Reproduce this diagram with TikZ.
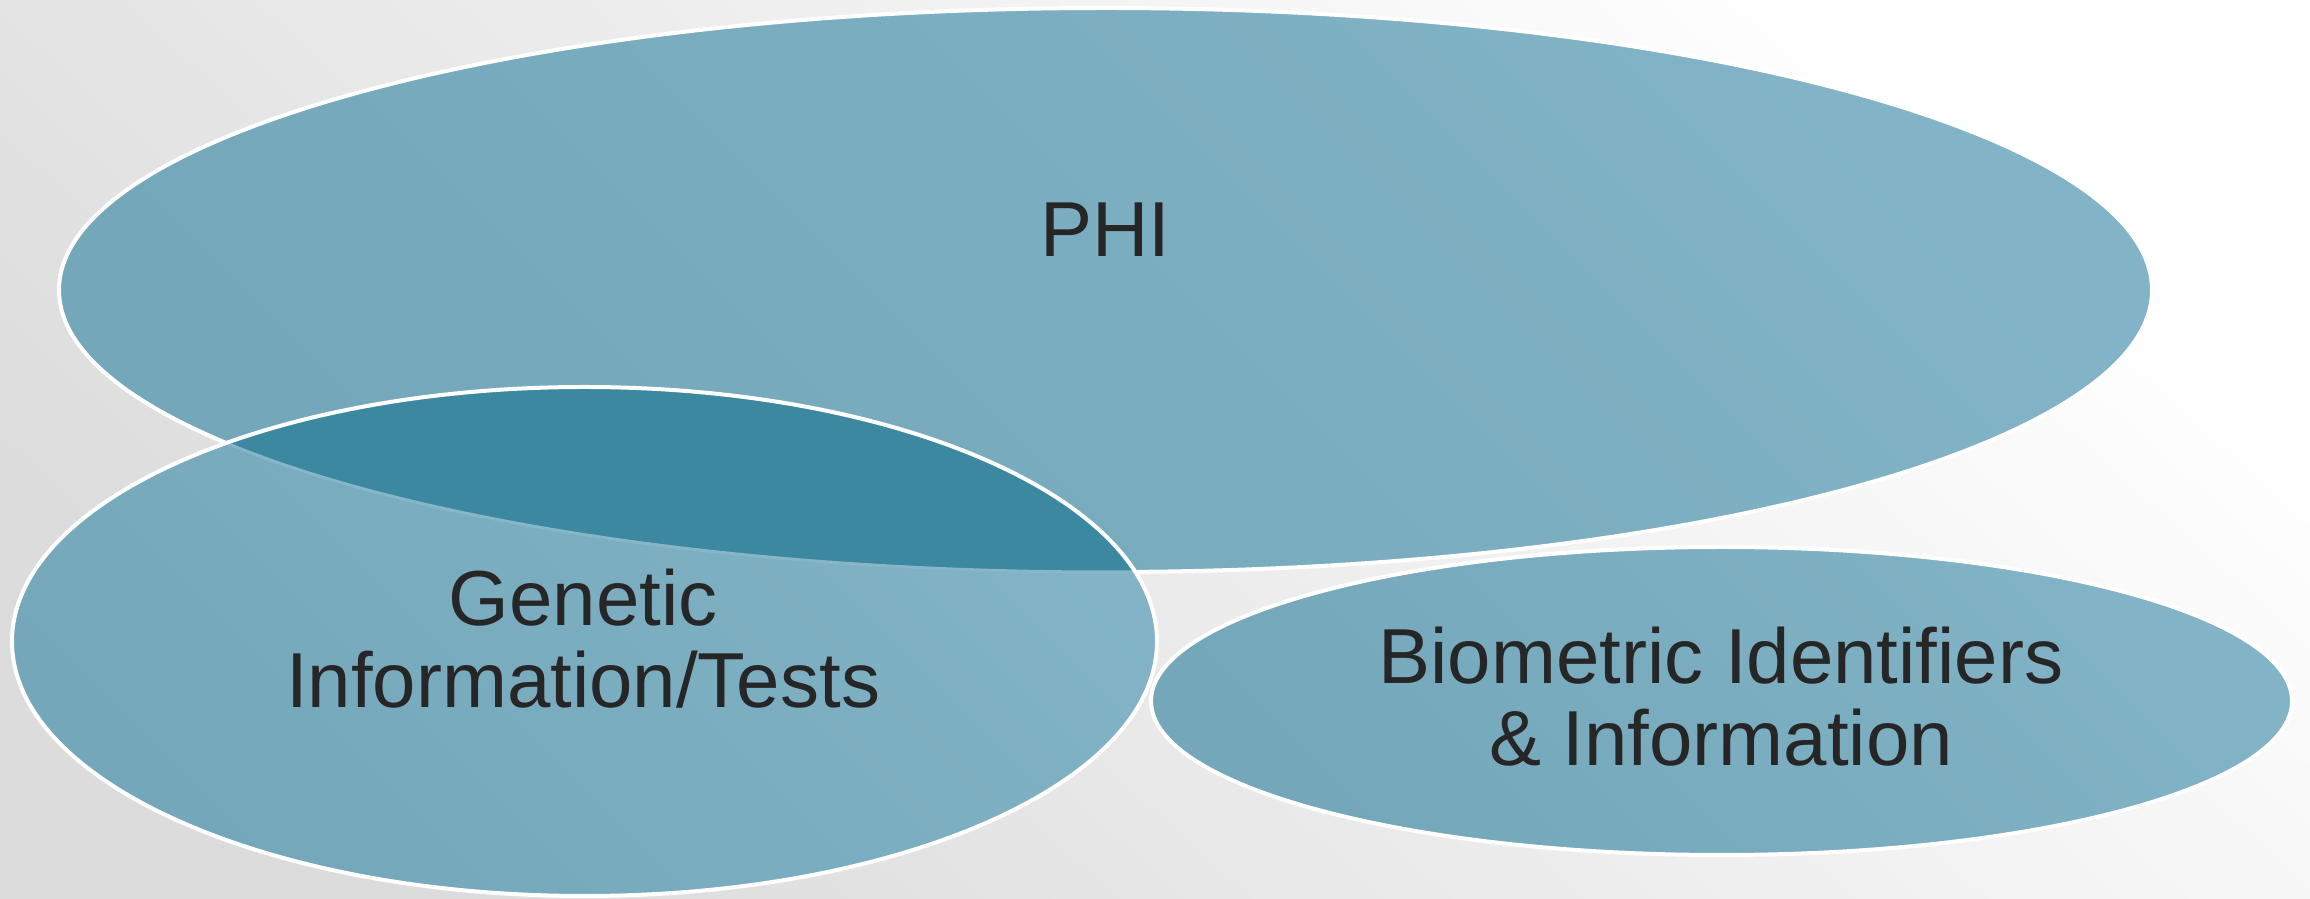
\documentclass[tikz,border=0pt]{standalone}
\usepackage{fontspec}
\setmainfont{Liberation Sans}
\definecolor{bgdark}{HTML}{DCDCDC}
\definecolor{bglight}{HTML}{FFFFFF}
\definecolor{blobA}{HTML}{73A7B9}
\definecolor{blobB}{HTML}{82B3C6}
\definecolor{overlap}{HTML}{3C88A0}
\definecolor{seam}{HTML}{86B6C7}
\definecolor{ink}{HTML}{262626}
\tikzset{
  blob/.style={shading=axis, bottom color=blobA, top color=blobB, shading angle=-45},
  rim/.style={draw=white, line width=4pt},
  label/.style={font=\fontsize{78}{82}\selectfont, text=ink, align=center, anchor=base, inner sep=0pt}
}
\begin{document}
\begin{tikzpicture}[x=1pt, y=1pt]
  % page and soft background
  \shade[shading=axis, bottom color=bgdark, top color=bglight, shading angle=-42]
    (0,0) rectangle (2310,899);
  \useasboundingbox (0,0) rectangle (2310,899);

  % centres of the three sets
  \coordinate (phiC) at (1105.5,609);
  \coordinate (genC) at (584.5,257.5);
  \coordinate (bioC) at (1721.5,198);

  % PHI
  \shade[blob] (phiC) ellipse [x radius=1046.5, y radius=282];
  \draw[rim] (phiC) ellipse [x radius=1046.5, y radius=282];

  % Genetic information
  \shade[blob] (genC) ellipse [x radius=572.5, y radius=254.5];
  \begin{scope}
    \clip (phiC) ellipse [x radius=1046.5, y radius=282];
    \fill[overlap] (genC) ellipse [x radius=572.5, y radius=254.5];
  \end{scope}
  \begin{scope}
    \clip (genC) ellipse [x radius=572.5, y radius=254.5];
    \draw[seam, line width=3pt] (phiC) ellipse [x radius=1046.5, y radius=282];
  \end{scope}
  \draw[rim] (genC) ellipse [x radius=572.5, y radius=254.5];

  % Biometric identifiers
  \shade[blob] (bioC) ellipse [x radius=570.5, y radius=154];
  \draw[rim] (bioC) ellipse [x radius=570.5, y radius=154];

  % labels (a two-line label sits on the baseline of its last line)
  \node[label] (phi) at (1105,642) {PHI};
  \node[label] (gen) at (583,191) {Genetic\\Information/Tests};
  \node[label] (bio) at (1721,133) {Biometric Identifiers\\\& Information};
\end{tikzpicture}
\end{document}
